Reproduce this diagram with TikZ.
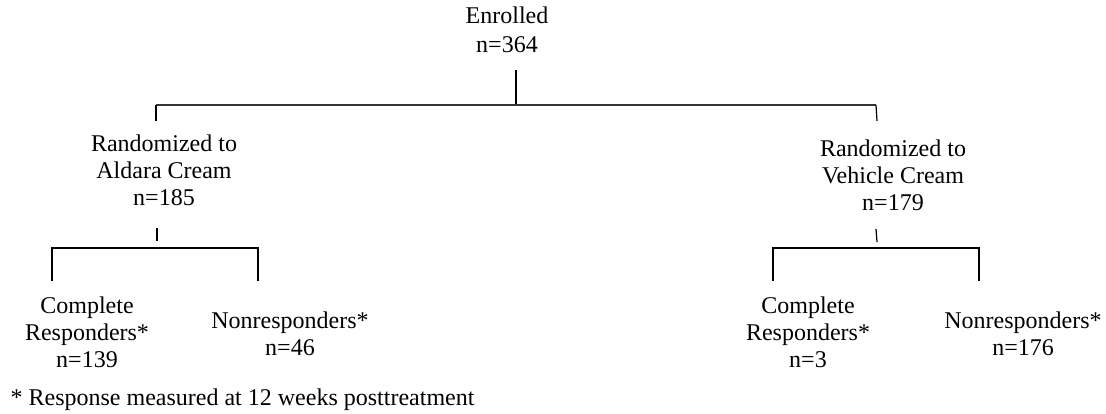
\documentclass[tikz,border=0pt]{standalone}
\usepackage{fontspec}
\setmainfont{Liberation Serif}

\begin{document}
\begin{tikzpicture}[
 x=0.5pt, y=-0.5pt,
 line width=0.6pt,
 align=center,
 inner sep=0pt,
 arm/.style={anchor=north,font=\fontsize{12}{13.5}\selectfont},
 bar/.style={line width=1pt,black!80}
]
\useasboundingbox (0,0) rectangle (1106,413);
\node (enrolled) [arm,font=\fontsize{12}{14.5}\selectfont] at (507,6) {Enrolled\\n=364};
\node (aldara) [arm] at (164,134) {Randomized to\\Aldara Cream\\n=185};
\node (vehicle) [arm] at (893,139) {Randomized to\\Vehicle Cream\\n=179};
\node (cr-aldara) [arm] at (87,296) {Complete\\Responders*\\n=139};
\node (nr-aldara) [arm] at (290,311) {Nonresponders*\\n=46};
\node (cr-vehicle) [arm] at (808,296) {Complete\\Responders*\\n=3};
\node (nr-vehicle) [arm] at (1023,311) {Nonresponders*\\n=176};
\node (note) [anchor=base west,font=\fontsize{12}{13.5}\selectfont] at (10,405) {* Response measured at 12 weeks posttreatment};

% split points
\coordinate (root) at (516,105);
\coordinate (aldara-in) at (156,105);
\coordinate (vehicle-in) at (876,105);
\coordinate (aldara-out) at (157,248);
\coordinate (vehicle-out) at (876,248);
\coordinate (cr-aldara-in) at (52,281);
\coordinate (nr-aldara-in) at (258,281);
\coordinate (cr-vehicle-in) at (773,281);
\coordinate (nr-vehicle-in) at (979,281);

\draw (root) -- +(0,-35);
\draw [bar] (aldara-in) -- (vehicle-in);
\draw (aldara-in) -- +(0,16);
\draw (vehicle-in) -- +(1,16);
\draw (aldara-out) ++(0,-20) -- +(0,13);
\draw (vehicle-out) ++(0,-19) -- +(1,13);
\draw (cr-aldara-in) -- (cr-aldara-in |- aldara-out) -- (nr-aldara-in |- aldara-out) -- (nr-aldara-in);
\draw (cr-vehicle-in) -- (cr-vehicle-in |- vehicle-out) -- (nr-vehicle-in |- vehicle-out) -- (nr-vehicle-in);
\end{tikzpicture}
\end{document}
